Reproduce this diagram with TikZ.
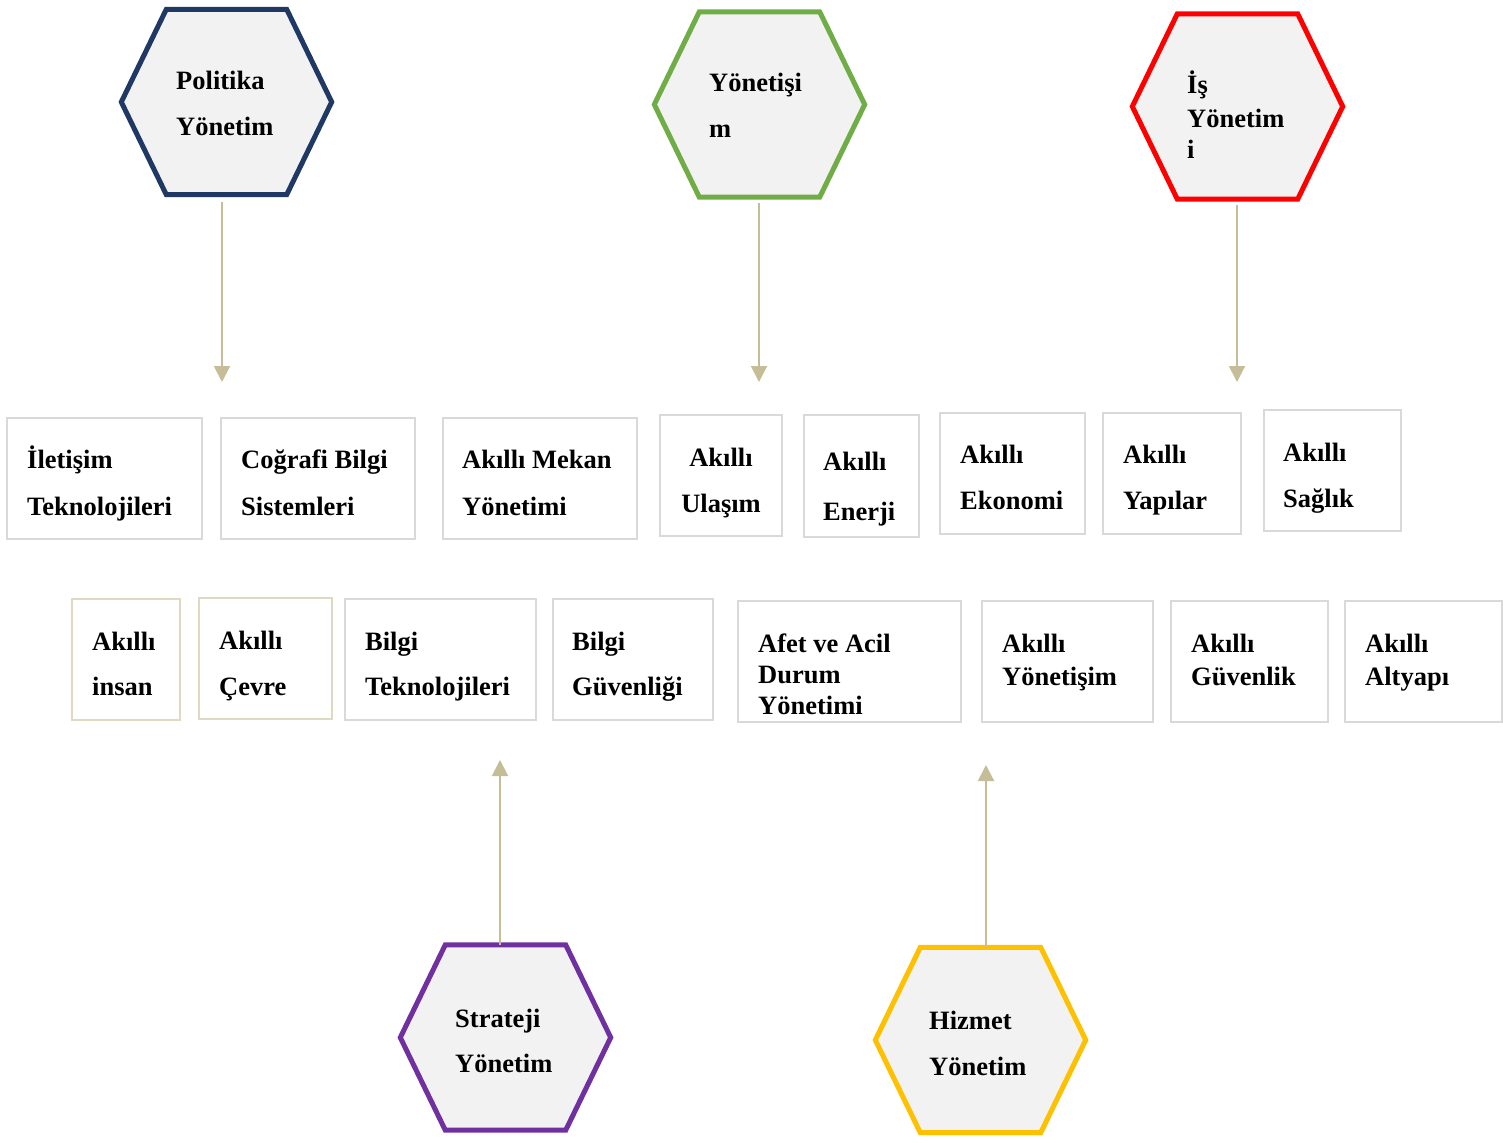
\documentclass[tikz,border=0pt]{standalone}
\usepackage{fontspec}
\setmainfont{Liberation Serif}
\usetikzlibrary{arrows.meta}
\definecolor{hexfill}{HTML}{F2F2F2}
\definecolor{navy}{HTML}{1F3864}
\definecolor{grn}{HTML}{70AD47}
\definecolor{rd}{HTML}{FF0000}
\definecolor{purp}{HTML}{7030A0}
\definecolor{ylw}{HTML}{FFC000}
\definecolor{arrc}{HTML}{C4BD97}
\definecolor{boxgray}{HTML}{D9D9D9}
\definecolor{boxtan}{HTML}{DDD9C3}
\tikzset{
  hexn/.style={rectangle, minimum width=210pt, minimum height=185pt, inner sep=0pt, draw=none},
  hexline/.style={line width=5pt, fill=hexfill, draw=#1, line join=miter},
  txt/.style={anchor=base west, inner sep=0pt, font=\fontsize{26.5}{32}\selectfont\bfseries},
  txtc/.style={anchor=base, inner sep=0pt, font=\fontsize{26.5}{32}\selectfont\bfseries},
  box/.style={rectangle, draw=boxgray, line width=2pt, fill=white, inner sep=0pt},
  tbox/.style={rectangle, draw=boxtan, line width=2pt, fill=white, inner sep=0pt},
  arr/.style={draw=arrc, line width=2pt, -{Triangle[width=16pt,length=16pt]}, color=arrc}
}
\newcommand{\myhexdraw}[2]{%
  \draw[hexline=#2] (#1.west) -- ([xshift=45pt]#1.north west) -- ([xshift=-45pt]#1.north east)
    -- (#1.east) -- ([xshift=-45pt]#1.south east) -- ([xshift=45pt]#1.south west) -- cycle;}
\begin{document}
\begin{tikzpicture}[x=1pt,y=-1pt]
\useasboundingbox[fill=white] (0,0) rectangle (1503,1142);

% hexagons
\node[hexn] (hP) at (226.5,102) {};
\node[hexn] (hY) at (759.5,104.5) {};
\node[hexn] (hI) at (1237.5,106.5) {};
\node[hexn] (hS) at (505.5,1037.5) {};
\node[hexn] (hH) at (980.5,1040) {};
\myhexdraw{hP}{navy}
\myhexdraw{hY}{grn}
\myhexdraw{hI}{rd}
\myhexdraw{hS}{purp}
\myhexdraw{hH}{ylw}

\node[txt] (tP1) at (176,90) {Politika};
\node[txt] (tP2) at (176,136) {Yönetim};
\node[txt] (tY1) at (709,92) {Yönetişi};
\node[txt] (tY2) at (709,138) {m};
\node[txt] (tI1) at (1187,94) {İş};
\node[txt] (tI2) at (1187,128) {Yönetim};
\node[txt] (tI3) at (1187,159) {i};
\node[txt] (tS1) at (455,1027) {Strateji};
\node[txt] (tS2) at (455,1072) {Yönetim};
\node[txt] (tH1) at (929,1029) {Hizmet};
\node[txt] (tH2) at (929,1075) {Yönetim};

% row 1 boxes
\node[box, minimum width=195pt, minimum height=121pt] (b1) at (104.5,478.5) {};
\node[box, minimum width=194pt, minimum height=121pt] (b2) at (318,478.5) {};
\node[box, minimum width=194pt, minimum height=121pt] (b3) at (540,478.5) {};
\node[box, minimum width=122pt, minimum height=121pt] (b4) at (721,475.5) {};
\node[box, minimum width=115pt, minimum height=122pt] (b5) at (861.5,476) {};
\node[box, minimum width=145pt, minimum height=121pt] (b6) at (1012.5,473.5) {};
\node[box, minimum width=138pt, minimum height=121pt] (b7) at (1172,473.5) {};
\node[box, minimum width=137pt, minimum height=121pt] (b8) at (1332.5,470.5) {};

\node[txt] (t11) at (27,468) {İletişim};
\node[txt] (t12) at (27,515) {Teknolojileri};
\node[txt] (t21) at (241,468) {Coğrafi Bilgi};
\node[txt] (t22) at (241,515) {Sistemleri};
\node[txt] (t31) at (462,468) {Akıllı Mekan};
\node[txt] (t32) at (462,515) {Yönetimi};
\node[txtc] (t41) at (721,466) {Akıllı};
\node[txtc] (t42) at (721,512) {Ulaşım};
\node[txt] (t51) at (823,470) {Akıllı};
\node[txt] (t52) at (823,520) {Enerji};
\node[txt] (t61) at (960,463) {Akıllı};
\node[txt] (t62) at (960,509) {Ekonomi};
\node[txt] (t71) at (1123,463) {Akıllı};
\node[txt] (t72) at (1123,509) {Yapılar};
\node[txt] (t81) at (1283,461) {Akıllı};
\node[txt] (t82) at (1283,507) {Sağlık};

% row 2 boxes
\node[tbox, minimum width=108pt, minimum height=121pt] (c1) at (126,659.5) {};
\node[tbox, minimum width=133pt, minimum height=121pt] (c2) at (265.5,658.5) {};
\node[box, minimum width=191pt, minimum height=121pt] (c3) at (440.5,659.5) {};
\node[box, minimum width=160pt, minimum height=121pt] (c4) at (633,659.5) {};
\node[box, minimum width=223pt, minimum height=121pt] (c5) at (849.5,661.5) {};
\node[box, minimum width=171pt, minimum height=121pt] (c6) at (1067.5,661.5) {};
\node[box, minimum width=157pt, minimum height=121pt] (c7) at (1249.5,661.5) {};
\node[box, minimum width=157pt, minimum height=121pt] (c8) at (1423,661.5) {};

\node[txt] (s11) at (92,650) {Akıllı};
\node[txt] (s12) at (92,695) {insan};
\node[txt] (s21) at (219,649) {Akıllı};
\node[txt] (s22) at (219,695) {Çevre};
\node[txt] (s31) at (365,650) {Bilgi};
\node[txt] (s32) at (365,695) {Teknolojileri};
\node[txt] (s41) at (572,650) {Bilgi};
\node[txt] (s42) at (572,695) {Güvenliği};
\node[txt] (s51) at (758,652) {Afet ve Acil};
\node[txt] (s52) at (758,683) {Durum};
\node[txt] (s53) at (758,714) {Yönetimi};
\node[txt] (s61) at (1002,652) {Akıllı};
\node[txt] (s62) at (1002,685) {Yönetişim};
\node[txt] (s71) at (1191,652) {Akıllı};
\node[txt] (s72) at (1191,685) {Güvenlik};
\node[txt] (s81) at (1365,652) {Akıllı};
\node[txt] (s82) at (1365,685) {Altyapı};

% arrows
\coordinate (eP) at (222,382);
\coordinate (eY) at (759,382);
\coordinate (eI) at (1237,382);
\coordinate (eS) at (500,760);
\coordinate (eH) at (986,765);
\draw[arr] (hP.south -| eP) ++(0,7) -- (eP);
\draw[arr] (hY.south -| eY) ++(0,6) -- (eY);
\draw[arr] (hI.south -| eI) ++(0,6) -- (eI);
\draw[arr] (hS.north -| eS) -- (eS);
\draw[arr] (hH.north -| eH) -- (eH);
\end{tikzpicture}
\end{document}
